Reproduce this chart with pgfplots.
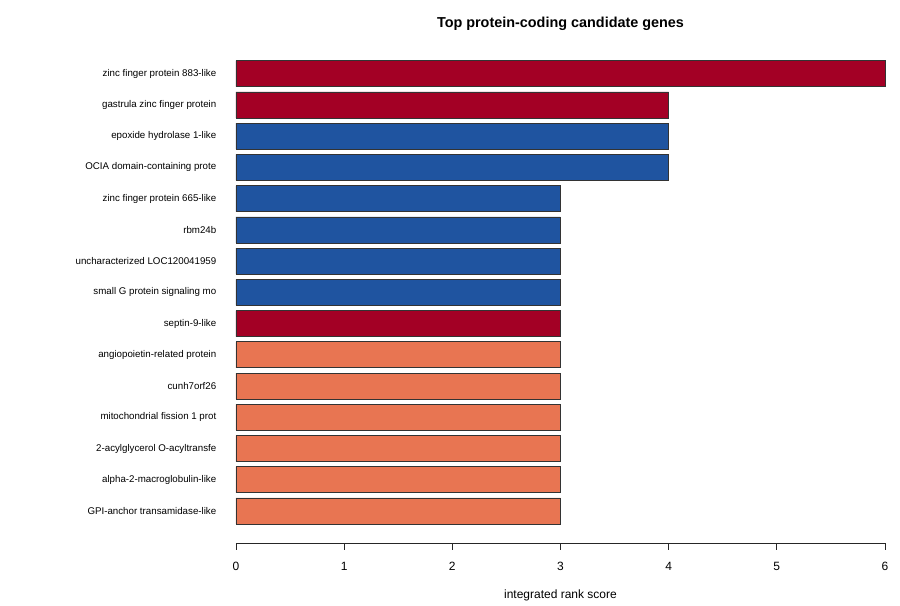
\documentclass[border=0pt]{standalone}
\usepackage{pgfplots}
\pgfplotsset{compat=1.18}
\usepackage{fontspec}
\setmainfont{Liberation Sans}
\definecolor{cred}{HTML}{A30025}
\definecolor{cblue}{HTML}{1F54A0}
\definecolor{corange}{HTML}{E87552}
\begin{document}
\begin{tikzpicture}
\begin{axis}[
  scale only axis, width=486.75pt, height=366pt,
  xmin=0, xmax=6, ymin=-0.026, ymax=15.6,
  axis x line*=bottom, axis y line*=left,
  y axis line style={draw=none},
  x axis line style={black!85, line width=0.6pt},
  xtick={0,1,2,3,4,5,6}, tick align=outside, major tick length=5.25pt,
  xtick style={black!85, line width=0.6pt},
  ytick={1,...,15}, ytick style={draw=none},
  yticklabels={GPI-anchor transamidase-like, alpha-2-macroglobulin-like, 2-acylglycerol O-acyltransfe, mitochondrial fission 1 prot, cunh7orf26, angiopoietin-related protein, septin-9-like, small G protein signaling mo, uncharacterized LOC120041959, rbm24b, zinc finger protein 665-like, OCIA domain-containing prote, epoxide hydrolase 1-like, gastrula zinc finger protein, zinc finger protein 883-like},
  yticklabel style={font=\fontsize{7.3}{8}\selectfont, xshift=-6pt},
  xticklabel style={font=\fontsize{9}{10}\selectfont, yshift=-5.5pt},
  /pgf/number format/assume math mode=true,
  xlabel={integrated rank score},
  xlabel style={font=\fontsize{9}{10}\selectfont, at={(axis description cs:0.5,0)}, anchor=center, yshift=-39pt},
  title={Top protein-coding candidate genes},
  title style={font=\bfseries\fontsize{10.8}{12}\selectfont, at={(axis description cs:0.5,1)}, anchor=center, yshift=17.25pt},
  xbar, bar width=0.833, bar shift=0pt,
  clip=false,
]
\addplot[fill=cred, draw=black!80, line width=0.5pt] coordinates {(6,15) (4,14) (3,7)};
\addplot[fill=cblue, draw=black!80, line width=0.5pt] coordinates {(4,13) (4,12) (3,11) (3,10) (3,9) (3,8)};
\addplot[fill=corange, draw=black!80, line width=0.5pt] coordinates {(3,6) (3,5) (3,4) (3,3) (3,2) (3,1)};
\coordinate (O) at (rel axis cs:0,0);
\end{axis}
\useasboundingbox (O) ++(-177pt,-42.75pt) rectangle ++(675pt,450pt);
\end{tikzpicture}
\end{document}
